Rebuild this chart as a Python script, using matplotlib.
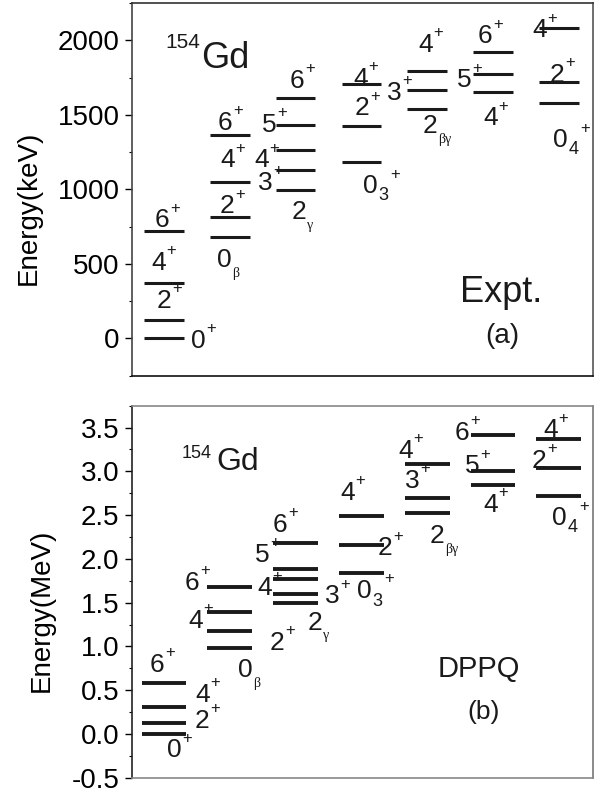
import matplotlib

matplotlib.use("Agg")
import matplotlib.pyplot as plt
from matplotlib.ticker import FormatStrFormatter, MultipleLocator
from matplotlib.transforms import Affine2D

W, H, DPI = 603, 793, 100

plt.rcParams.update({
    "font.family": ["Liberation Sans", "DejaVu Sans"],
    "axes.unicode_minus": False,
    "text.color": "#1a1a1a",
})

# level energies, one list per band (column, left to right)
EXPT_KEV = [
    [0, 123, 371, 718],             # ground band
    [683, 817, 1048, 1366],         # beta band
    [997, 1127, 1266, 1434, 1611],  # gamma band
    [1183, 1422, 1707],             # 0_3 band
    [1539, 1664, 1796],             # 2_beta-gamma band
    [1650, 1776, 1919],
    [1579, 1720, 2084],             # 0_4 band
]
DPPQ_MEV = [
    [0.0, 0.12, 0.31, 0.58],
    [0.985, 1.18, 1.39, 1.68],
    [1.50, 1.60, 1.77, 1.89, 2.18],
    [1.84, 2.16, 2.49],
    [2.52, 2.69, 3.08],
    [2.84, 3.00, 3.41],
    [2.72, 3.04, 3.37],
]

# spin labels: (digit, superscript, subscript, x px, baseline px)
EXPT_LABELS = [
    ("0", "+", None, 191, 348), ("2", "+", None, 157, 308), ("4", "+", None, 151, 270), ("6", "+", None, 155, 227),
    ("0", None, "β", 217, 267), ("2", "+", None, 220, 213), ("4", "+", None, 220, 167), ("6", "+", None, 218, 130),
    ("2", None, "γ", 292, 219), ("3", "+", None, 258, 190), ("4", "+", None, 254, 167), ("5", "+", None, 262, 132),
    ("6", "+", None, 290, 88),
    ("0", "+", "3", 363, 193), ("2", "+", None, 355, 115), ("4", "+", None, 353, 86),
    ("2", None, "βγ", 423, 133), ("3", "+", None, 387, 100), ("4", "+", None, 418, 52),
    ("4", "+", None, 483, 125), ("5", "+", None, 457, 87), ("6", "+", None, 478, 43),
    ("0", "+", "4", 553, 147), ("2", "+", None, 550, 82), ("4", "+", None, 532, 37),
]
DPPQ_LABELS = [
    ("6", "+", None, 150, 672), ("4", "+", None, 195, 702), ("2", "+", None, 195, 728), ("0", "+", None, 167, 757),
    ("0", None, "β", 238, 677), ("4", "+", None, 188, 628), ("6", "+", None, 185, 590), ("2", "+", None, 270, 650),
    ("4", "+", None, 257, 595), ("5", "+", None, 255, 562), ("6", "+", None, 273, 532), ("3", "+", None, 325, 603),
    ("2", None, "γ", 308, 630),
    ("0", "+", "3", 357, 598), ("2", "+", None, 378, 555), ("4", "+", None, 340, 500),
    ("2", None, "βγ", 430, 543), ("3", "+", None, 405, 488), ("4", "+", None, 398, 458),
    ("4", "+", None, 483, 512), ("5", "+", None, 465, 473), ("6", "+", None, 455, 440),
    ("0", "+", "4", 552, 525), ("2", "+", None, 532, 468), ("4", "+", None, 543, 437),
]

FS = 19
EM = FS * DPI / 72.0
PX = Affine2D().scale(1, -1).translate(0, H)  # pixel coords measured from the top

fig = plt.figure(figsize=(W / DPI, H / DPI), dpi=DPI)


def txt(x, y, s, **kw):
    fig.text(x, y, s, transform=PX, **kw)


def spin(lab):
    d, sup, sub, x, y = lab
    txt(x, y, d, fontsize=FS, ha="left", va="baseline")
    adv = 0.556 * EM
    if sub is not None:
        if sub.isdigit():
            txt(x + adv + 1, y + 3, sub, fontsize=13, ha="left", va="center")
        else:
            txt(x + adv, y + 6, sub, fontsize=10, ha="left", va="center", family="Liberation Serif")
    if sup is not None:
        dx = 13 if sub is not None else 1
        txt(x + adv + dx, y - 0.72 * EM, sup, fontsize=12, ha="left", va="center")


def panel(rect, bands, ylim, major, minor, fmt, half, lw, ylabel, lab_x):
    ax = fig.add_axes(rect)
    for i, band in enumerate(bands):
        for e in band:
            ax.plot([i - half, i + half], [e, e], color="#1a1a1a", lw=lw, solid_capstyle="butt")
    ax.set_xlim(-0.486, 6.52)
    ax.set_ylim(*ylim)
    ax.set_xticks([])
    ax.yaxis.set_major_locator(MultipleLocator(major))
    ax.yaxis.set_minor_locator(MultipleLocator(minor))
    ax.yaxis.set_major_formatter(FormatStrFormatter(fmt))
    ax.tick_params(axis="y", which="major", direction="out", length=5, width=1.0, pad=4, labelsize=20)
    ax.tick_params(axis="y", which="minor", direction="out", length=2.5, width=0.8)
    ax.set_ylabel(ylabel, fontsize=20)
    ax.yaxis.set_label_coords(lab_x, 0.45)
    return ax


ax1 = panel([132 / W, 1 - 375.7 / H, 461 / W, 372.7 / H], EXPT_KEV, (-250, 2250), 500, 250, "%d",
            0.30, 2.2, "Energy(keV)", -0.195)
for s, c in zip(("left", "bottom", "top", "right"), ("#444444", "#111111", "#333333", "#555555")):
    ax1.spines[s].set_color(c)
    ax1.spines[s].set_linewidth(1.2)

ax2 = panel([132 / W, 1 - 777.7 / H, 461 / W, 372 / H], DPPQ_MEV, (-0.5, 3.75), 0.5, 0.25, "%.1f",
            0.34, 2.8, "Energy(MeV)", -0.168)
for s, c in zip(("left", "bottom", "top", "right"), ("#222222", "#888888", "#888888", "#777777")):
    ax2.spines[s].set_color(c)
    ax2.spines[s].set_linewidth(1.2)

for lab in EXPT_LABELS + DPPQ_LABELS:
    spin(lab)

# nucleus, model and panel tags
txt(165, 48, "154", fontsize=15, ha="left", va="baseline")
txt(201, 68, "Gd", fontsize=26, ha="left", va="baseline")
txt(182, 458, "154", fontsize=13, ha="left", va="baseline")
txt(216, 470, "Gd", fontsize=23, ha="left", va="baseline")
txt(460, 302, "Expt.", fontsize=26, ha="left", va="baseline")
txt(502, 336, "(a)", fontsize=20, ha="center", va="center")
txt(438, 677, "DPPQ", fontsize=21, ha="left", va="baseline")
txt(484, 712, "(b)", fontsize=19, ha="center", va="center")

fig.savefig("out.png", dpi=DPI)
